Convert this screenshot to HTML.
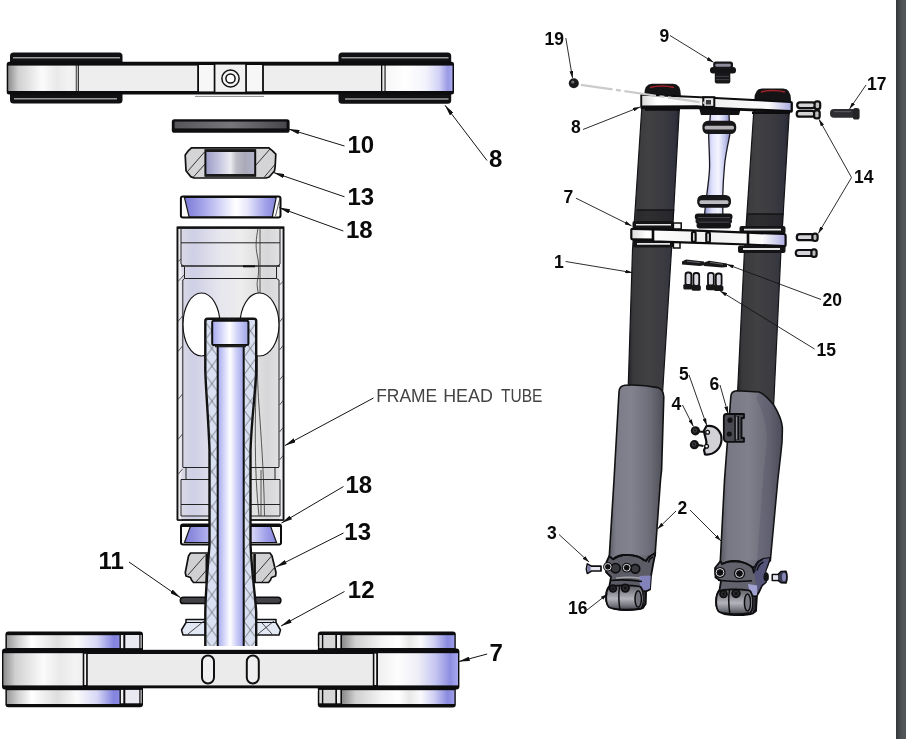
<!DOCTYPE html>
<html lang="en">
<head>
<meta charset="utf-8">
<title>Front Fork Assembly</title>
<style>
html,body{margin:0;padding:0;width:906px;height:739px;overflow:hidden;background:#525659;}
#page{position:absolute;left:0;top:0;width:896px;height:739px;background:#fff;}
#shade{position:absolute;left:896px;top:0;width:10px;height:739px;background:linear-gradient(to right,#34373a 0,#3e4144 20%,#4c5053 50%,#525659 80%);}
svg{position:absolute;left:0;top:0;}
#labels{will-change:transform;}
text{font-family:"Liberation Sans",sans-serif;}
.big{font-size:24px;font-weight:bold;fill:#0a0a0a;}
.sm{font-size:17.5px;font-weight:bold;fill:#0a0a0a;}
.cap{font-size:19px;fill:#444;}
.ln{stroke:#111;stroke-width:1;fill:none;}
</style>
</head>
<body>
<div id="page"></div>
<div id="shade"></div>
<svg width="906" height="739" viewBox="0 0 906 739">
<defs>
<marker id="ah" viewBox="0 0 11 4.4" refX="11" refY="2.2" markerWidth="11" markerHeight="4.4" orient="auto" markerUnits="userSpaceOnUse"><path d="M0,0 L11,2.2 L0,4.4 Z" fill="#111"/></marker>
<marker id="ahs" viewBox="0 0 7 3.8" refX="7" refY="1.9" markerWidth="7" markerHeight="3.8" orient="auto" markerUnits="userSpaceOnUse"><path d="M0,0 L7,1.9 L0,3.8 Z" fill="#111"/></marker>
<linearGradient id="gL" x1="0" x2="1" y1="0" y2="0"><stop offset="0" stop-color="#8e8e8e"/><stop offset="0.15" stop-color="#d0d0d0"/><stop offset="0.5" stop-color="#fbfbfb"/><stop offset="0.72" stop-color="#e9e9e9"/><stop offset="0.9" stop-color="#f3f3f3"/><stop offset="1" stop-color="#efefef"/></linearGradient>
<linearGradient id="gR" x1="0" x2="1" y1="0" y2="0"><stop offset="0" stop-color="#f6f6f6"/><stop offset="0.3" stop-color="#ffffff"/><stop offset="0.6" stop-color="#f3f3fc"/><stop offset="0.8" stop-color="#d2d2f6"/><stop offset="0.93" stop-color="#9a9ae6"/><stop offset="1" stop-color="#a8a8ec"/></linearGradient>
<linearGradient id="gR2" x1="0" x2="1" y1="0" y2="0"><stop offset="0" stop-color="#f0f0f0"/><stop offset="0.25" stop-color="#fdfdfd"/><stop offset="0.5" stop-color="#eeeef6"/><stop offset="0.72" stop-color="#c5c5f2"/><stop offset="0.9" stop-color="#8e8ee2"/><stop offset="1" stop-color="#a8a8ee"/></linearGradient>
<linearGradient id="gBL" x1="0" x2="1" y1="0" y2="0"><stop offset="0" stop-color="#9a9a9a"/><stop offset="0.1" stop-color="#d0d0d0"/><stop offset="0.22" stop-color="#ffffff"/><stop offset="0.45" stop-color="#dedede"/><stop offset="0.62" stop-color="#fafafa"/><stop offset="0.8" stop-color="#d8d8f6"/><stop offset="0.95" stop-color="#8484e0"/><stop offset="1" stop-color="#8a8ae2"/></linearGradient>
<linearGradient id="gBR" x1="0" x2="1" y1="0" y2="0"><stop offset="0" stop-color="#8a8a8a"/><stop offset="0.12" stop-color="#d0d0d0"/><stop offset="0.35" stop-color="#f4f4f4"/><stop offset="0.5" stop-color="#ffffff"/><stop offset="0.6" stop-color="#e8e8e8"/><stop offset="0.7" stop-color="#fafafc"/><stop offset="0.82" stop-color="#cfcff4"/><stop offset="0.94" stop-color="#8a8ae0"/><stop offset="1" stop-color="#9c9ce8"/></linearGradient>
<linearGradient id="gBore" x1="0" x2="1" y1="0" y2="0"><stop offset="0" stop-color="#9a9ac6"/><stop offset="0.3" stop-color="#c9c9e2"/><stop offset="0.5" stop-color="#ececf2"/><stop offset="0.62" stop-color="#bdbdc6"/><stop offset="0.8" stop-color="#a9a9b9"/><stop offset="1" stop-color="#b5b5cf"/></linearGradient>
<linearGradient id="gCup" x1="0" x2="1" y1="0" y2="0"><stop offset="0" stop-color="#7a7ad6"/><stop offset="0.2" stop-color="#a4a4ea"/><stop offset="0.45" stop-color="#e4e4fb"/><stop offset="0.56" stop-color="#ffffff"/><stop offset="0.68" stop-color="#e9e9fc"/><stop offset="0.88" stop-color="#a2a2ea"/><stop offset="1" stop-color="#8484da"/></linearGradient>
<linearGradient id="gSeal" x1="0" x2="1" y1="0" y2="0"><stop offset="0" stop-color="#55555a"/><stop offset="0.5" stop-color="#77777b"/><stop offset="1" stop-color="#47474c"/></linearGradient>
<linearGradient id="gTube" x1="0" x2="1" y1="0" y2="0"><stop offset="0" stop-color="#dcdce6"/><stop offset="0.15" stop-color="#cfcfe6"/><stop offset="0.4" stop-color="#e6e6ee"/><stop offset="0.6" stop-color="#ededed"/><stop offset="0.85" stop-color="#d6d6d8"/><stop offset="1" stop-color="#e4e4e6"/></linearGradient>
<linearGradient id="gStem" x1="0" x2="1" y1="0" y2="0"><stop offset="0" stop-color="#a3a9ec"/><stop offset="0.25" stop-color="#d4d6fa"/><stop offset="0.48" stop-color="#ffffff"/><stop offset="0.7" stop-color="#d0d2f8"/><stop offset="1" stop-color="#a0a4e6"/></linearGradient>
<pattern id="hatch" x="205.5" y="322" width="12.8" height="17.6" patternUnits="userSpaceOnUse"><path d="M0,17.6 L12.8,0 M0,0 L12.8,17.6" stroke="#3a3a3a" stroke-width="0.6" fill="none"/></pattern>
<linearGradient id="gDark" x1="0" x2="1" y1="0" y2="0"><stop offset="0" stop-color="#242428"/><stop offset="0.1" stop-color="#39393c"/><stop offset="0.4" stop-color="#414143"/><stop offset="0.7" stop-color="#3a3a40"/><stop offset="0.9" stop-color="#33333f"/><stop offset="1" stop-color="#25252b"/></linearGradient>
<linearGradient id="gLegL" x1="0" x2="1" y1="0" y2="0"><stop offset="0" stop-color="#5c5c66"/><stop offset="0.12" stop-color="#7c7c88"/><stop offset="0.4" stop-color="#83838f"/><stop offset="0.75" stop-color="#6c6c78"/><stop offset="1" stop-color="#4e4e58"/></linearGradient>
<linearGradient id="gLegR" x1="0" x2="1" y1="0" y2="0"><stop offset="0" stop-color="#5a5a64"/><stop offset="0.12" stop-color="#787884"/><stop offset="0.45" stop-color="#80808c"/><stop offset="0.8" stop-color="#6a6a76"/><stop offset="1" stop-color="#50505a"/></linearGradient>
<linearGradient id="gClampR" x1="0" x2="1" y1="0" y2="0"><stop offset="0" stop-color="#d9d9d9"/><stop offset="0.1" stop-color="#ffffff"/><stop offset="0.5" stop-color="#f0f0f0"/><stop offset="0.85" stop-color="#fbfbfb"/><stop offset="0.95" stop-color="#c9c9ec"/><stop offset="1" stop-color="#ababde"/></linearGradient>
<linearGradient id="gStemR" x1="0" x2="1" y1="0" y2="0"><stop offset="0" stop-color="#8f93c8"/><stop offset="0.3" stop-color="#dfe1fb"/><stop offset="0.55" stop-color="#f4f5ff"/><stop offset="0.8" stop-color="#c3c6ee"/><stop offset="1" stop-color="#8a8ec0"/></linearGradient>
<linearGradient id="gAxle" x1="0" x2="0" y1="0" y2="1"><stop offset="0" stop-color="#5c5c64"/><stop offset="0.3" stop-color="#8c8c94"/><stop offset="0.55" stop-color="#b4b4bc"/><stop offset="0.8" stop-color="#7c7c84"/><stop offset="1" stop-color="#44444c"/></linearGradient>

</defs>
<g id="left">
<!-- ===== top triple clamp (8) ===== -->
<rect x="10" y="52.5" width="112.5" height="51" rx="3.5" fill="#111114"/>
<rect x="338.5" y="52.5" width="112.7" height="51.3" rx="3.5" fill="#111114"/>
<path d="M13,57.8 H120 M14,98.7 H117 M341.5,57.8 H448.5 M345,98.9 H448.5" stroke="#9c9ca0" stroke-width="1.5" fill="none"/>
<rect x="6.7" y="61.8" width="447.3" height="32.7" rx="2.5" fill="#0c0c0e"/>
<rect x="8.2" y="65.6" width="67.6" height="25.4" fill="url(#gL)"/>
<rect x="78.8" y="65.6" width="118.4" height="25.4" fill="#eeeeee"/>
<rect x="199" y="65" width="14.7" height="26.4" fill="#f7f7f7"/>
<rect x="215.4" y="64.6" width="29.8" height="27.2" fill="#f2f2f2"/>
<rect x="246.9" y="65" width="15.2" height="26.4" fill="#f7f7f7"/>
<rect x="263.9" y="65.6" width="117.1" height="25.4" fill="#eeeeee"/>
<rect x="382.3" y="65.6" width="2.2" height="25.4" fill="#e8e8e8"/>
<rect x="385.6" y="65.6" width="66.9" height="25.4" fill="url(#gR)"/>
<rect x="76.6" y="65.6" width="1.2" height="25.4" fill="#e0e0e0"/>
<circle cx="230.5" cy="78.5" r="8.6" fill="#f4f4f4" stroke="#111" stroke-width="1.5"/>
<circle cx="230.5" cy="78.5" r="4.6" fill="#fff" stroke="#111" stroke-width="1.5"/>
<path d="M195,96.4 H264" stroke="#8a8a8a" stroke-width="1"/>
<!-- ===== seal (10) ===== -->
<rect x="171.8" y="119.2" width="117.8" height="13.6" rx="2.6" fill="#0e0e10"/>
<rect x="174.6" y="121.6" width="112" height="6.8" fill="url(#gSeal)"/>
<!-- ===== upper bearing (13) ===== -->
<path d="M191.4,147.8 H268.6 L272.3,150.6 L275.8,154.2 L275.2,166 L274.6,170.7 L269.2,177 L266,178 H194 L190.7,176.6 L186,170.7 L185.2,155 L188.5,150.6 Z" fill="#d4d4d6" stroke="#111" stroke-width="1.7" stroke-linejoin="round"/>
<path d="M187.5,171.5 L204.5,152 M193,177.5 L205,164 M256,165 L270,149 M264,177.5 L275.3,164" stroke="#222" stroke-width="0.9"/>
<rect x="205.4" y="150.3" width="49.8" height="25.4" fill="url(#gBore)" stroke="#111" stroke-width="2"/>
<path d="M205,150.6 H255.6 M205,175.2 H255.6" stroke="#1a1a1a" stroke-width="2.6"/>
<!-- ===== upper cup (18) ===== -->
<rect x="180.9" y="196.6" width="99.6" height="20.8" rx="2" fill="#fbfbfb" stroke="#0c0c0c" stroke-width="2"/>
<path d="M184.4,197.4 H276.2 L272.3,216.8 H189.1 Z" fill="url(#gCup)" stroke="#111" stroke-width="1.2"/>
<path d="M280,198 L275.5,216" stroke="#333" stroke-width="0.8"/>
</g>
<g id="headtube">
<!-- ===== frame head tube ===== -->
<rect x="177.5" y="227.5" width="106" height="292.5" fill="url(#gTube)" stroke="#111" stroke-width="1.3"/>
<rect x="177.5" y="227.5" width="4" height="292.5" fill="#ececf0"/>
<rect x="279.5" y="227.5" width="4" height="292.5" fill="#ececf0"/>
<path d="M177.5,520 V227.5 H283.5 V520" fill="none" stroke="#111" stroke-width="1.8"/>
<path d="M177.5,227.8 H283.5" stroke="#111" stroke-width="2"/>
<path d="M181,228 V264 L184.5,267 V278.5 L182.8,280 V467 M280,228 V264 L276.5,267 V278.5 L279,280 V467" fill="none" stroke="#222" stroke-width="1"/>
<path d="M181,242.8 H280 M184.5,278.5 H276.5" stroke="#222" stroke-width="1"/>
<path d="M181,266 H280" stroke="#222" stroke-width="1.3"/>
<path d="M243,266.3 H255" stroke="#111" stroke-width="2"/>
<path d="M260,228 V295" stroke="#333" stroke-width="0.8" fill="none"/>
<path d="M258,228 C256,240 255.5,246 257,254 C259,262 259,270 258,278 C256,284 258,290 258.5,295" stroke="#333" stroke-width="0.8" fill="none"/>
<!-- wall hatch marks -->
<path d="M177.5,262 L181,259 M177.5,282 L184,275 M177.5,322 L182.5,316 M177.5,352 L182.5,346 M177.5,400 L182.5,394 M177.5,440 L182.5,434 M177.5,475 L182.5,469 M279.5,285 L283.5,281 M279.5,322 L283.5,317 M279.5,350 L283.5,345 M279.5,380 L283.5,375 M279.5,405 L283.5,400 M279.5,432 L283.5,427 M279.5,460 L283.5,455" stroke="#333" stroke-width="0.8" fill="none"/>
<!-- ovals -->
<ellipse cx="201.5" cy="324.5" rx="18.5" ry="31.5" fill="#fff" stroke="#111" stroke-width="1.2"/>
<ellipse cx="259.5" cy="324.5" rx="19.5" ry="31.5" fill="#fff" stroke="#111" stroke-width="1.2"/>
<!-- lower steps of tube -->
<path d="M182.8,467.5 H279 M186,467.5 V479.5 M275,467.5 V479.5 M181,479.5 H280 M181,479.5 V516 M280,479.5 V516 M181,504.5 H280 M181,516 H280" stroke="#222" stroke-width="1" fill="none"/>
<path d="M177.5,520 H283.5" stroke="#111" stroke-width="1.6"/>
<path d="M257.5,356 C257,380 258.5,400 260,420 C262,450 264,480 264.5,516 M256.5,370 C255,420 254,470 259,516 M261,470 V516" stroke="#333" stroke-width="0.8" fill="none"/>
</g>
<g id="lowerparts">
<!-- ===== lower cup (18) ===== -->
<rect x="181" y="524.5" width="100" height="20" rx="2" fill="#fafafa" stroke="#0c0c0c" stroke-width="2"/>
<path d="M190.5,526 H270.5 L276.5,542.5 H184.5 Z" fill="url(#gCup)" stroke="#111" stroke-width="1.2"/>
<path d="M181,526 H281" stroke="#0c0c0c" stroke-width="2"/>
<!-- ===== lower bearing (13) ===== -->
<path d="M190.5,553 H270 L272,556 L276,572.5 L275.6,576 L271.5,577.5 L270.5,580 L268.5,582.5 H193.5 L191.5,580 L190.5,577.5 L186,576 L185.3,572.5 L188.5,556 Z" fill="#d0d0d2" stroke="#111" stroke-width="1.7" stroke-linejoin="round"/>
<path d="M188,575 L205,555.5 M196,582 L207,569.5 M255,575 L272,555.5 M262,582 L275,567" stroke="#222" stroke-width="0.9"/>
<path d="M206.8,554 V582 M254.6,554 V582" stroke="#111" stroke-width="2.6"/>
<!-- ===== seal (11) ===== -->
<rect x="180.3" y="597.2" width="100.6" height="6.4" rx="3.2" fill="#434347" stroke="#0c0c0c" stroke-width="1.5"/>
<!-- ===== washer (12) ===== -->
<path d="M186,619.5 H276 V622.5 L280.5,630 L279,635 H183 L181.5,630 L186,622.5 Z" fill="#e2e8f4" stroke="#111" stroke-width="1.5" stroke-linejoin="round"/>
<path d="M186,622.5 H276" stroke="#111" stroke-width="1.2"/>
<path d="M188,634 L204,621 M258,634 L274,621 M262,623 L272,634" stroke="#222" stroke-width="0.8"/>
</g>
<g id="stem">
<path d="M205.3,650 V612 C205.5,598 207,575 209.5,545 V450 C208.5,420 205.8,390 205.3,370 V321 Q205.3,318.7 207.5,318.7 H254 Q256.2,318.7 256.2,321 V370 C255.7,390 251.5,420 250.5,450 V545 C252,575 255.5,598 256.2,612 V650 Z" fill="#d9e0f1" stroke="#111" stroke-width="2.4" stroke-linejoin="round"/>
<path d="M205.3,650 V612 C205.5,598 207,575 209.5,545 V450 C208.5,420 205.8,390 205.3,370 V321 Q205.3,318.7 207.5,318.7 H254 Q256.2,318.7 256.2,321 V370 C255.7,390 251.5,420 250.5,450 V545 C252,575 255.5,598 256.2,612 V650 Z" fill="url(#hatch)" stroke="none"/>
<rect x="217.7" y="346" width="26" height="304" fill="url(#gStem)" stroke="#111" stroke-width="2"/>
<rect x="212.2" y="320.7" width="36.2" height="24.3" rx="1.5" fill="url(#gStem)" stroke="#111" stroke-width="2"/>
<path d="M215,346.3 H246" stroke="#222" stroke-width="2"/>
</g>
<g id="botclamp">
<!-- ===== bottom triple clamp (7) ===== -->
<rect x="5.4" y="631.5" width="137.6" height="75.8" rx="3" fill="#0c0c0e"/>
<rect x="317.8" y="631.5" width="138" height="76" rx="3" fill="#0c0c0e"/>
<rect x="6.9" y="635.2" width="112.6" height="12.8" fill="url(#gBL)"/>
<rect x="6.9" y="690.2" width="112.6" height="13.8" fill="url(#gBL)"/>
<rect x="120.9" y="635" width="2.4" height="13.2" fill="#f0f0f4"/>
<rect x="120.9" y="689.8" width="2.4" height="13.5" fill="#f0f0f4"/>
<rect x="125.3" y="635" width="14" height="13.2" fill="#e9e9f1"/>
<rect x="125.3" y="689.8" width="14" height="13.5" fill="#e9e9f1"/>
<rect x="140.5" y="635" width="1.2" height="13.2" fill="#d8d8d8"/>
<rect x="140.5" y="689.8" width="1.2" height="13.5" fill="#d8d8d8"/>
<rect x="319.3" y="635" width="2.6" height="13.2" fill="#d8d8d8"/>
<rect x="319.3" y="689.8" width="2.6" height="13.5" fill="#d8d8d8"/>
<rect x="323.3" y="635" width="12" height="13.2" fill="#d6d6d6"/>
<rect x="323.3" y="689.8" width="12" height="13.5" fill="#d6d6d6"/>
<rect x="337" y="635" width="3.4" height="13.2" fill="#ececec"/>
<rect x="337" y="689.8" width="3.4" height="13.5" fill="#ececec"/>
<rect x="342" y="635.2" width="112.4" height="12.8" fill="url(#gBR)"/>
<rect x="342" y="690.2" width="112.4" height="13.8" fill="url(#gBR)"/>
<rect x="2" y="648.5" width="457.4" height="41" rx="3" fill="#0c0c0e"/>
<rect x="3.4" y="653.2" width="79.3" height="32.2" fill="url(#gL)"/>
<rect x="84.3" y="653.8" width="1.8" height="31.2" fill="#f4f4f4"/>
<rect x="87.8" y="654" width="285" height="31.4" fill="#ebebeb"/>
<rect x="374.4" y="653.6" width="1.8" height="31.4" fill="#f4f4f4"/>
<rect x="378" y="653.2" width="80" height="32.2" fill="url(#gR2)"/>
<rect x="143" y="646" width="174.8" height="3.8" fill="#fff"/>
<rect x="143" y="688.3" width="174.8" height="3" fill="#fff"/>
<rect x="202" y="655.5" width="12" height="28" rx="6" fill="#f0f0f2" stroke="#111" stroke-width="2"/>
<rect x="246.8" y="655.5" width="12" height="28" rx="6" fill="#f0f0f2" stroke="#111" stroke-width="2"/>
</g>

<g id="right-tubes">
<!-- dashed guide line from 19 -->
<!-- upper dark tubes -->
<path d="M642,105 L679.5,105 L671.5,250 L662.5,394 L628,394 L632.5,250 Z" fill="url(#gDark)" stroke="#141418" stroke-width="1.2"/>
<path d="M754,108 L789.5,108 L781,250 L773.7,404 L737,404 L744.5,250 Z" fill="url(#gDark)" stroke="#141418" stroke-width="1.2"/>
<path d="M636.6,210 L674.3,210 L673.6,222 L635.9,222 Z" fill="#000" opacity="0.28"/>
<path d="M747,214 L783.6,214 L782.9,227 L746.3,227 Z" fill="#000" opacity="0.28"/>
<path d="M636.6,210 H674.3 M747,214 H783.6" stroke="#141416" stroke-width="1.6" fill="none"/>
<!-- tube top caps -->
<path d="M644.3,95 Q644.3,84 652,83.8 H673 Q680.8,84 680.8,95 V97 H644.3 Z" fill="#141416"/>
<path d="M650,87.5 Q662,84.5 674,87.5" stroke="#a0222a" stroke-width="1.6" fill="none"/>
<path d="M754.3,100 Q754.3,88.8 762,88.6 H783 Q791,88.8 791,100 V103 H754.3 Z" fill="#141416"/>
<path d="M761,92 Q773,89 785,92" stroke="#a0222a" stroke-width="1.6" fill="none"/>
<!-- lower legs -->
<path d="M619,392 Q619.3,385.6 625,385.2 Q642,384.2 658,387.6 Q663.4,389.5 663.8,397 L661.6,470 L660.5,480 L655,556 L609.3,556 L614,480 Z" fill="url(#gLegL)" stroke="#111" stroke-width="1.6" stroke-linejoin="round"/>
<path d="M730.8,397 Q731,391 737,390.8 L759,392 Q764,393.5 773.7,405 Q781.5,418 782.3,427 Q782.6,440 781,452 L777.8,480 L770.3,561 L720.3,561 L724.5,480 Z" fill="url(#gLegR)" stroke="#111" stroke-width="1.6" stroke-linejoin="round"/>
<path d="M759,392 Q764,393.5 773.7,405 Q781.5,418 782.3,427 Q782.6,440 781,452 L777.8,480 L770.3,561 L757,561 L763,480 L767,440 Q766,415 756,398 Z" fill="#3c3c5c" opacity="0.2"/>
</g>
<g id="right-center">
<!-- center stem -->
<path d="M710.5,113 H729 L729.8,135 C727.5,146 725.2,156 724.5,166 C723.6,176 723,186 722.8,195 V215 H704.5 L705.2,208 L707,193 C708.4,182 709.6,174 709.6,166 C709.6,155 708.8,145 708.7,135 Z" fill="url(#gStemR)" stroke="#1a1a22" stroke-width="1.3"/>
<!-- block under top clamp -->
<path d="M699,108 H741 L739,115 H701 Z" fill="#111114"/>
<!-- upper flange -->
<rect x="702.4" y="120.8" width="33.8" height="13.2" rx="5.5" fill="#17171a"/>
<rect x="704.6" y="125.8" width="29.4" height="3.8" rx="1.5" fill="#b4b4b8"/>
<!-- lower flange -->
<rect x="697.2" y="195" width="33.8" height="12.8" rx="5.5" fill="#17171a"/>
<rect x="699.5" y="200.2" width="29" height="3.8" rx="1.5" fill="#bcbcc0"/>
<!-- bearing stack -->
<rect x="694.8" y="213.5" width="37.7" height="6.5" rx="3" fill="#141416"/>
<rect x="695.5" y="218" width="36.5" height="6" rx="3" fill="#1d1d20"/>
<rect x="696.5" y="222.5" width="34.5" height="6" rx="3" fill="#141416"/>
<path d="M698,217.5 H730 M699,222.2 H729" stroke="#55555a" stroke-width="0.8"/>
</g>
<g id="right-clamps">
<!-- top clamp (8) -->
<path d="M640.3,95 Q640.3,93.4 642,93.5 L700,96.2 L791,100.9 Q792.9,101 792.9,103 V111 Q792.9,112.9 791,112.8 L700,109.2 L642,109.2 Q640.3,109.2 640.3,107.6 Z" fill="#0c0c0e"/>
<path d="M642.2,95.7 L697,98.1 L752,100.9 L790.6,103 L790.6,109.9 L752,108.4 L716,107 L697,105.3 L642.2,105.4 Z" fill="url(#gClampR)"/>
<rect x="703.3" y="97.2" width="11" height="9.6" fill="#e8e8e8" stroke="#0c0c0e" stroke-width="2"/>
<rect x="706" y="100" width="5" height="4.5" fill="#3a3a3e"/>
<path d="M645,109.5 H680 M752,112.8 H790" stroke="#0c0c0e" stroke-width="2.6"/>
<path d="M580.8,84.8 L706,103" stroke="#cbcbcb" stroke-width="2.2" stroke-dasharray="32 3.5 5 3.5" fill="none"/>
<!-- lower clamp (7) -->
<rect x="632.5" y="221" width="41" height="8" rx="2" fill="#141416"/>
<path d="M636,224.8 H671" stroke="#e4e4e4" stroke-width="1.6"/>
<rect x="633" y="240" width="40.5" height="7.6" rx="2" fill="#141416"/>
<path d="M637,243.8 H670" stroke="#e4e4e4" stroke-width="1.8"/>
<rect x="739.5" y="226" width="46" height="8" rx="2" fill="#141416"/>
<path d="M744,229.6 H781" stroke="#e4e4e4" stroke-width="1.8"/>
<rect x="738" y="245.5" width="47.5" height="7.6" rx="2" fill="#141416"/>
<path d="M743,249 H780" stroke="#e4e4e4" stroke-width="1.8"/>
<rect x="673.4" y="223" width="7.8" height="6" fill="#f4f4f4" stroke="#0c0c0e" stroke-width="1.5"/>
<rect x="673.4" y="241" width="6.6" height="7" fill="#f4f4f4" stroke="#0c0c0e" stroke-width="1.5"/>
<path d="M631.3,230 Q631.3,228.8 633,228.8 L653,229.4 L690,230.4 L748,232.7 L784,234 Q785.6,234.2 785.6,236 V244.6 Q785.6,246.3 784,246.2 L748,244.5 L690,242.6 L653,241.4 L653,239.6 L633,239.4 Q631.3,239.4 631.3,238 Z" fill="url(#gClampR)" stroke="#0c0c0e" stroke-width="2.2" stroke-linejoin="round"/>
<path d="M653,229.5 V241 M748,233 V244.4" stroke="#0c0c0e" stroke-width="2.6"/>
<rect x="692" y="231.8" width="3.6" height="10" rx="1.6" fill="#f4f4f4" stroke="#0c0c0e" stroke-width="2.2"/>
<rect x="706.3" y="232.4" width="3.6" height="10" rx="1.6" fill="#f4f4f4" stroke="#0c0c0e" stroke-width="2.2"/>
</g>
<g id="smallparts">
<!-- ball 19 -->
<circle cx="573.8" cy="83.2" r="5" fill="#1a1a1c"/>
<circle cx="572.8" cy="82" r="1.6" fill="#707074"/>
<!-- part 9 -->
<rect x="714.8" y="72" width="15.5" height="11.5" rx="2" fill="#18181a"/>
<rect x="710" y="67" width="26" height="6.6" rx="3" fill="#141416"/>
<rect x="713.2" y="61.5" width="19.8" height="7.5" rx="2.5" fill="#17171a"/>
<rect x="715.3" y="63.8" width="15.5" height="3" rx="1.3" fill="#8c8c9c"/>
<path d="M716,76.4 H729 M716,79.6 H729" stroke="#4a4a50" stroke-width="0.8"/>
<!-- bolts 14 upper -->
<rect x="797.2" y="102.3" width="18" height="5.8" rx="2.8" fill="#d4d4d4" stroke="#101012" stroke-width="2.2"/>
<rect x="814.6" y="101.4" width="5.6" height="7.8" rx="2.4" fill="#bdbdbd" stroke="#101012" stroke-width="2.2"/>
<rect x="796.7" y="110.9" width="18" height="5.8" rx="2.8" fill="#d4d4d4" stroke="#101012" stroke-width="2.2"/>
<rect x="814.1" y="110.4" width="5.6" height="8" rx="2.4" fill="#bdbdbd" stroke="#101012" stroke-width="2.2"/>
<!-- bolt 17 -->
<rect x="830" y="109" width="26" height="8.8" rx="4" fill="#2e2e32"/>
<rect x="852.8" y="108" width="6.8" height="11.6" rx="2.6" fill="#242427"/>
<path d="M834,111.6 H851" stroke="#55555a" stroke-width="1.2"/>
<!-- bolts 14 lower -->
<rect x="796.8" y="234.2" width="17" height="6" rx="2.8" fill="#d4d4d8" stroke="#101012" stroke-width="2.2"/>
<rect x="812.4" y="233.6" width="5.2" height="7.4" rx="2.4" fill="#bdbdbd" stroke="#101012" stroke-width="2.2"/>
<rect x="795.8" y="250" width="17" height="6" rx="2.8" fill="#d4d4d8" stroke="#101012" stroke-width="2.2"/>
<rect x="811.4" y="249.4" width="5.2" height="7.4" rx="2.4" fill="#bdbdbd" stroke="#101012" stroke-width="2.2"/>
<!-- parts 20 -->
<path d="M682,261.5 L686,259.6 L704,261.5 L704,265.3 L700,266 L682,264.5 Z" fill="#18181a"/>
<path d="M704,262.5 L709,260.8 L727,263.5 L727,267 L722,267.5 L704,266 Z" fill="#18181a"/>
<path d="M687,261.3 L700,262.6 M710,262.4 L723,264.3" stroke="#77777c" stroke-width="0.8"/>
<!-- parts 15 -->
<g fill="#d9d9e2" stroke="#101012" stroke-width="1.8">
<rect x="685.5" y="272.5" width="5.8" height="13" rx="2.4"/>
<rect x="693.4" y="273" width="5.8" height="13" rx="2.4"/>
<rect x="708" y="272.8" width="5.8" height="13" rx="2.4"/>
<rect x="715.8" y="273.5" width="5.8" height="13" rx="2.4"/>
</g>
<g fill="#161618">
<rect x="683.3" y="284" width="9.6" height="5.6" rx="1.6"/>
<rect x="691.8" y="285" width="9" height="5.8" rx="1.6"/>
<rect x="706" y="284.6" width="9.4" height="5.6" rx="1.6"/>
<rect x="714" y="285.4" width="9.4" height="5.6" rx="1.6"/>
</g>
<!-- part 5 half disc -->
<path d="M706.5,426 C716,424.5 722,432 721.5,440 C721,448.5 714,455.5 705,454.5 L704,450 C706.5,446 707,443 706,439.5 C705,436 704.5,433.5 703.8,431 Z" fill="#d2d2d6" stroke="#0e0e10" stroke-width="2.2" stroke-linejoin="round"/>
<circle cx="707.6" cy="432.3" r="1.9" fill="#f0f0f0" stroke="#0e0e10" stroke-width="1.3"/>
<circle cx="706.6" cy="446.3" r="1.9" fill="#f0f0f0" stroke="#0e0e10" stroke-width="1.3"/>
<!-- part 4 bolts -->
<circle cx="695.4" cy="430.8" r="4.6" fill="#141416"/>
<circle cx="694.4" cy="444.7" r="4.6" fill="#141416"/>
<circle cx="695" cy="430.5" r="1.7" fill="none" stroke="#55555a" stroke-width="0.8"/>
<circle cx="694" cy="444.4" r="1.7" fill="none" stroke="#55555a" stroke-width="0.8"/>
<path d="M699,431.5 L704.5,432 M698,445 L703.5,446" stroke="#141416" stroke-width="2.2"/>
<!-- part 6 bracket -->
<path d="M726.5,414 H744 V418 H741.5 V438 H744 V441.8 H727.5 Q723.8,441.8 723.8,438 V417 Q723.8,414 726.5,414 Z" fill="#4a4a52" stroke="#0e0e10" stroke-width="1.8" stroke-linejoin="round"/>
<path d="M735,415 V441 M738.3,416 V440" stroke="#0e0e10" stroke-width="1.4"/>
<path d="M736.6,417 V439" stroke="#9a9aa2" stroke-width="0.9"/>
<circle cx="730" cy="420.2" r="2.6" fill="#121214"/>
<circle cx="729.3" cy="434" r="2.6" fill="#121214"/>
</g>
<g id="axle-left">
<path d="M609.3,555 H655.2 L653.2,565 H608.8 Z" fill="url(#gLegL)"/>
<!-- clamp body -->
<path d="M609.3,556 L613,559.2 C617,556.3 620,555.2 623.4,555 C627,554.8 630,555 632.9,555.4 C636,556 638.5,556.8 640.5,557.8 L646,561 C648,557.5 650,555.5 655.3,553 L653,565 L651,576 L650,589.5 L646,591.5 L645.5,604 L643,608 C639,610 630,610.3 620,609.8 C612,609.3 607.5,607 606.2,601 C605.5,595 606.5,589 609.5,585.5 L611,577 L606,572 L606.5,562 Z" fill="#5c5c66" stroke="#0e0e10" stroke-width="1.8" stroke-linejoin="round"/>
<path d="M613,559.2 C617,556.3 620,555.2 623.4,555 C627,554.8 630,555 632.9,555.4 C636,556 638.5,556.8 640.5,557.8 C642.5,559 643.6,560 644.3,561.1" fill="none" stroke="#0e0e10" stroke-width="1.8"/>
<path d="M639.5,576 L650.8,575.5 L650,588.6 L645,590.5 L640.5,588 C639.6,584 639.3,580 639.5,576 Z" fill="#8383bb"/>
<path d="M646,561.5 C647,558 649.5,555.5 653.5,554.3 M648.5,562.5 C649,560 650.5,558 653,557" stroke="#0e0e10" stroke-width="1.4" fill="none"/>
<path d="M616,578.2 C624,577 632,577 640,578" stroke="#a4a4a8" stroke-width="1.3" fill="none"/>
<path d="M611,580.5 C620,579.6 632,579.8 642,581.5" stroke="#0e0e10" stroke-width="1.6" fill="none"/>
<!-- axle barrel -->
<path d="M609,587.3 C613,584.8 630,584.8 640,586.5 C644,589.5 644.8,603.5 641.3,608.3 C632,610.3 615,610.3 609,607.3 C605.3,603.5 605.3,591.5 609,587.3 Z" fill="url(#gAxle)" stroke="#0e0e10" stroke-width="1.7"/>
<ellipse cx="638.2" cy="599" rx="3.2" ry="8.2" fill="#73737d" stroke="#0e0e10" stroke-width="1.5"/>
<path d="M619.6,585.5 C618.4,594 618.6,602 620,609.8" stroke="#0e0e10" stroke-width="1.5" fill="none"/>
<path d="M643.5,591 L646,591.5 L645.5,604 L643.2,606" stroke="#0e0e10" stroke-width="1.6" fill="#2a2a30"/>
<!-- upper bolts -->
<circle cx="615.5" cy="568.2" r="4.7" fill="#38383e" stroke="#0e0e10" stroke-width="1.7"/>
<circle cx="635.3" cy="568.7" r="4.4" fill="#38383e" stroke="#0e0e10" stroke-width="1.7"/>
<circle cx="607.8" cy="566.8" r="4.7" fill="#101012"/>
<circle cx="607.8" cy="566.8" r="3.3" fill="none" stroke="#dcdce2" stroke-width="1"/>
<circle cx="626.7" cy="567.7" r="4.9" fill="#101012"/>
<circle cx="626.7" cy="567.7" r="3.4" fill="none" stroke="#dcdce2" stroke-width="1"/>
<!-- lower bolts -->
<circle cx="613" cy="588.6" r="3.4" fill="#2a2a2e" stroke="#0e0e10" stroke-width="1.7"/>
<circle cx="625.3" cy="588.1" r="3.8" fill="#2a2a2e" stroke="#0e0e10" stroke-width="1.7"/>
<circle cx="613" cy="588.6" r="1.2" fill="#0e0e10"/>
<circle cx="625.3" cy="588.1" r="1.3" fill="#0e0e10"/>
<!-- bolt 3 -->
<path d="M587.3,564 L591.5,566.2 H601 V571 H591.5 L587.3,573.4 Q585.6,568.7 587.3,564 Z" fill="#e6e6f0" stroke="#0e0e10" stroke-width="1.7" stroke-linejoin="round"/>
<path d="M587.6,565 L590.6,566.6 V570.8 L587.6,572.4 Z" fill="#7c7ca8"/>
</g>
<g id="axle-right">
<path d="M720.3,560 H770.3 L767.6,566.5 L754,569 H720.6 Z" fill="url(#gLegR)"/>
<path d="M757,560 H770.3 L767.6,566.5 L756,568.5 Z" fill="#3c3c5c" opacity="0.28"/>
<path d="M720.5,561 L722,564 C726,561.8 729,561.2 733,561 C738,561 742,561.8 745,563 C748,564.3 750.5,565.6 752,567 L754.5,567.5 C756,563 759,560.3 763,559 L770.2,558 L767.5,566 L765.5,571 L766,582 L762,585.5 L759,592 L757,595.5 L756,611 L753,613.3 C749,615 740,615.3 730,614.8 C722,614.3 717.5,612 716.3,606 C715.6,600 716.6,593 719.6,589.5 L721,581 L715.5,577.5 L715,568 Z" fill="#62626d" stroke="#0e0e10" stroke-width="1.8" stroke-linejoin="round"/>
<path d="M722,564 C726,561.8 729,561.2 733,561 C738,561 742,561.8 745,563 C748,564.3 750.5,565.6 752,567 C753.2,569 753.8,571 754,573.5" fill="none" stroke="#0e0e10" stroke-width="1.8"/>
<path d="M754.5,567.5 C756,563 759,560.3 763,559 L769.5,558.2 L767,566 L765.3,571 L765.6,581.8 L761.6,585 L758,591.5 C755.5,584 754.5,576 754.5,567.5 Z" fill="#55557a"/>
<path d="M748,584 L757.2,585.5 L757,595 L752.5,596.5 C750,593 748.5,588.5 748,584 Z" fill="#a2a2d2"/>
<path d="M754.5,572 C755,566 758,561.5 763,559.2 M757,570.5 C758,566.5 760,563.5 763.5,562" stroke="#0e0e10" stroke-width="1.4" fill="none"/>
<path d="M718,580.3 C728,581.6 742,581.6 752,580.8" stroke="#0e0e10" stroke-width="1.6" fill="none"/>
<path d="M719,591.3 C723,588.8 740,588.8 749.5,590.5 C753.5,593.5 754,608 750.5,612.8 C742,614.8 725,614.8 719,611.8 C715.3,608 715.3,595.5 719,591.3 Z" fill="url(#gAxle)" stroke="#0e0e10" stroke-width="1.7"/>
<ellipse cx="747.5" cy="602.5" rx="3.1" ry="8.4" fill="#7b7b85" stroke="#0e0e10" stroke-width="1.5"/>
<path d="M729.5,589.5 C728.3,598 728.5,606 730,614.8" stroke="#0e0e10" stroke-width="1.5" fill="none"/>
<path d="M752.8,596 L756.3,596.5 L755.8,610.5 L753,612" stroke="#0e0e10" stroke-width="1.6" fill="#2a2a30"/>
<circle cx="720" cy="572.5" r="5.6" fill="#101012"/>
<circle cx="720" cy="572.5" r="3.9" fill="none" stroke="#dcdce2" stroke-width="1"/>
<circle cx="739.5" cy="573.5" r="5.6" fill="#101012"/>
<circle cx="739.5" cy="573.5" r="3.9" fill="none" stroke="#dcdce2" stroke-width="1"/>
<circle cx="723.5" cy="594" r="3.5" fill="#2a2a2e" stroke="#0e0e10" stroke-width="1.7"/>
<circle cx="736" cy="593.5" r="3.9" fill="#2a2a2e" stroke="#0e0e10" stroke-width="1.7"/>
<circle cx="723.5" cy="594" r="1.2" fill="#0e0e10"/>
<circle cx="736" cy="593.5" r="1.3" fill="#0e0e10"/>
<ellipse cx="766.2" cy="577" rx="2.7" ry="4.4" fill="#141418"/>
<path d="M772.3,574.6 H778 L781,571.5 L786,571.2 Q788.2,577 786,583 L781,582.6 L778,580.4 H772.3 Z" fill="#3c3c50" stroke="#0e0e10" stroke-width="1.6" stroke-linejoin="round"/>
<rect x="773" y="575.2" width="5" height="4.6" fill="#e6e6f2"/>
<ellipse cx="784" cy="577" rx="2" ry="4.2" fill="#8686b4"/>
</g>

<g id="arrows" stroke="#151515" stroke-width="1" fill="none">
<path d="M344.5,146 L288.5,129" marker-end="url(#ah)"/>
<path d="M344.5,196.8 L273.5,172.5" marker-end="url(#ah)"/>
<path d="M343.3,231 L279,207.6" marker-end="url(#ah)"/>
<path d="M487,160.5 L445,105.3" marker-end="url(#ah)"/>
<path d="M373.5,398 L285,445.5" marker-end="url(#ah)"/>
<path d="M343.5,486.5 L281.5,523" marker-end="url(#ah)"/>
<path d="M343.5,533 L276,567" marker-end="url(#ah)"/>
<path d="M344.5,591.5 L281,626" marker-end="url(#ah)"/>
<path d="M129,562 L180.5,597.7" marker-end="url(#ah)"/>
<path d="M487.2,654 L458.8,661.6" marker-end="url(#ah)"/>
</g>
<g id="arrows2" stroke="#151515" stroke-width="0.9" fill="none">
<path d="M565.8,38 L572.5,78" marker-end="url(#ahs)"/>
<path d="M670,35.5 L713.5,62.3" marker-end="url(#ahs)"/>
<path d="M583,129.5 L640,107" marker-end="url(#ahs)"/>
<path d="M866,85 L849.5,109" marker-end="url(#ahs)"/>
<path d="M851.5,177.5 L819,119.3" marker-end="url(#ahs)"/>
<path d="M851.5,177.5 L818.3,233.4" marker-end="url(#ahs)"/>
<path d="M576,198.2 L631.5,225.8" marker-end="url(#ahs)"/>
<path d="M565.6,261.5 L632.3,272.6" marker-end="url(#ahs)"/>
<path d="M821,299.5 L726.8,264.3" marker-end="url(#ahs)"/>
<path d="M814.5,349 L720.2,291" marker-end="url(#ahs)"/>
<path d="M689,375 L706.7,425.3" marker-end="url(#ahs)"/>
<path d="M720,385 L728,413.4" marker-end="url(#ahs)"/>
<path d="M682.5,405 L693.3,426.3" marker-end="url(#ahs)"/>
<path d="M676,511 L657.5,529" marker-end="url(#ahs)"/>
<path d="M690,510 L721,541" marker-end="url(#ahs)"/>
<path d="M559,534.5 L589,562" marker-end="url(#ahs)"/>
<path d="M587,610 L607.5,594" marker-end="url(#ahs)"/>
</g>
<g id="labels">
<text class="big" x="347.4" y="153.3">10</text>
<text class="big" x="347.5" y="204.5">13</text>
<text class="big" x="345.9" y="238.2">18</text>
<text class="big" x="489.1" y="167.4">8</text>
<text class="cap" x="376.2" y="402"><tspan textLength="61" lengthAdjust="spacingAndGlyphs">FRAME</tspan> <tspan x="443.2" textLength="49.6" lengthAdjust="spacingAndGlyphs">HEAD</tspan> <tspan x="501" textLength="41.4" lengthAdjust="spacingAndGlyphs">TUBE</tspan></text>
<text class="big" x="345.4" y="493.0">18</text>
<text class="big" x="344.3" y="540.2">13</text>
<text class="big" x="347.8" y="597.7">12</text>
<text class="big" x="98.4" y="569.1">11</text>
<text class="big" x="489.5" y="660.7">7</text>
<text class="sm" x="544.5" y="44.5">19</text>
<text class="sm" x="659.5" y="42">9</text>
<text class="sm" x="571" y="133">8</text>
<text class="sm" x="867" y="89.5">17</text>
<text class="sm" x="854" y="182.5">14</text>
<text class="sm" x="563.5" y="202.5">7</text>
<text class="sm" x="554" y="268">1</text>
<text class="sm" x="822.5" y="306">20</text>
<text class="sm" x="816.5" y="356">15</text>
<text class="sm" x="679" y="380">5</text>
<text class="sm" x="709.5" y="389.5">6</text>
<text class="sm" x="671.5" y="409.5">4</text>
<text class="sm" x="677.5" y="513.5">2</text>
<text class="sm" x="547" y="539">3</text>
<text class="sm" x="568" y="614">16</text>
</g>

</svg>
</body>
</html>
